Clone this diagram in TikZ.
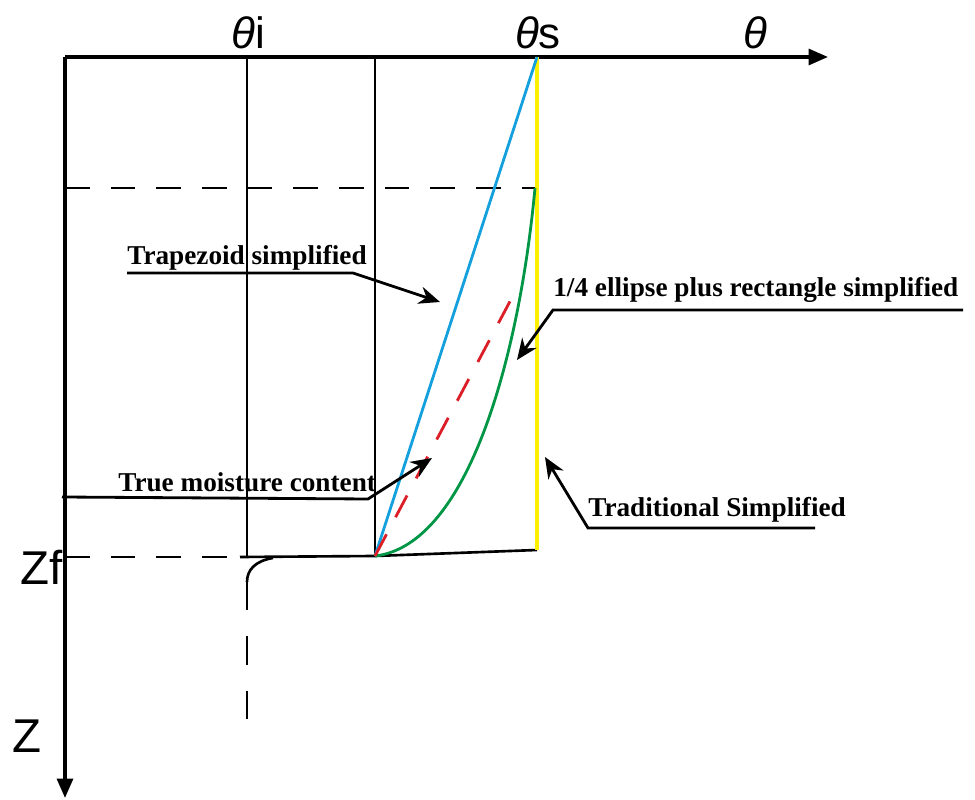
\documentclass[tikz,border=0pt]{standalone}
\usepackage{fontspec}
\setmainfont{Liberation Serif}
\setsansfont{Liberation Sans}
\usetikzlibrary{arrows.meta}
\definecolor{trapblue}{RGB}{20,160,220}
\definecolor{ellgreen}{RGB}{0,150,70}
\definecolor{truered}{RGB}{220,30,40}
\definecolor{tradyellow}{RGB}{250,240,0}
\tikzset{>=Stealth,
  axis/.style={line width=2pt,-{Triangle[length=11pt,width=9pt]}},
  grid/.style={line width=1.5pt},
  dashline/.style={line width=1.5pt,dash pattern=on 14pt off 12pt},
  ptr/.style={line width=1.6pt,-{Stealth[length=12pt,width=10pt]}},
  lbl/.style={font=\bfseries\fontsize{15.5}{17}\selectfont,inner sep=0pt},
  sym/.style={font=\sffamily\fontsize{25}{28}\selectfont,inner sep=0pt}}

\begin{document}
\begin{tikzpicture}[x=0.02cm,y=-0.02cm]
\useasboundingbox (0,0) rectangle (975,800);
\coordinate (O) at (65,57);\coordinate (Te) at (828,57);\coordinate (Ze) at (65,798);
\coordinate (I) at (247,57);\coordinate (R) at (375,57);\coordinate (S) at (537,57);
\coordinate (Ib) at (247,557);\coordinate (Rb) at (375,556);\coordinate (Sb) at (537,550);
\coordinate (Zf) at (65,557);\coordinate (D0) at (65,188);\coordinate (D1) at (535,188);
% axes and frame
\draw[axis] (O)--(Te);\draw[axis] (O)--(Ze);
\draw[grid] (I)--(Ib);\draw[grid] (R)--(Rb);
\draw[dashline] (D0)--(D1);\draw[dashline] (Zf)--(Ib);
\draw[grid] (240,557)--(Rb)--(Sb);
\draw[grid] (273,558) .. controls (255,561) and (247,570) .. (247,582);
\draw[grid,dash pattern=on 16pt off 15pt] (247,582)--(247,722);
% profiles
\draw[tradyellow,line width=2pt] (S)--(Sb);
\draw[trapblue,line width=1.6pt] (Rb)--(S);
\draw[ellgreen,line width=1.6pt] (Rb) .. controls (470,545) and (520,350) .. (D1);
\draw[truered,line width=1.6pt,dash pattern=on 14pt off 11pt] (Rb)--(516,290);
% labels
\node[sym] (ti) at (248,33){\textit{θ}i};\node[sym] (ts) at (538,33){\textit{θ}s};
\node[sym] (tt) at (755,33){\textit{θ}};
\node[sym,font=\sffamily\fontsize{27}{29}\selectfont,anchor=east] (zf) at (63,567){Zf};
\node[sym,font=\sffamily\fontsize{27}{29}\selectfont] (zz) at (27,736){Z};
\node[lbl,anchor=base west] (trap) at (127,265){Trapezoid simplified};
\node[lbl,anchor=base west] (true) at (118,492){True moisture content};
\node[lbl,anchor=base west] (ell) at (553,297){1/4 ellipse plus rectangle simplified};
\node[lbl,anchor=base west] (trad) at (588,517){Traditional Simplified};
% pointers
\draw[ptr] (127,273)--(353,273)--(440,302);
\draw[ptr] (62,497)--(368,499)--(432,458);
\draw[ptr] (963,310)--(553,310)--(517,360);
\draw[ptr] (815,528)--(588,528)--(545,457);
\end{tikzpicture}
\end{document}
